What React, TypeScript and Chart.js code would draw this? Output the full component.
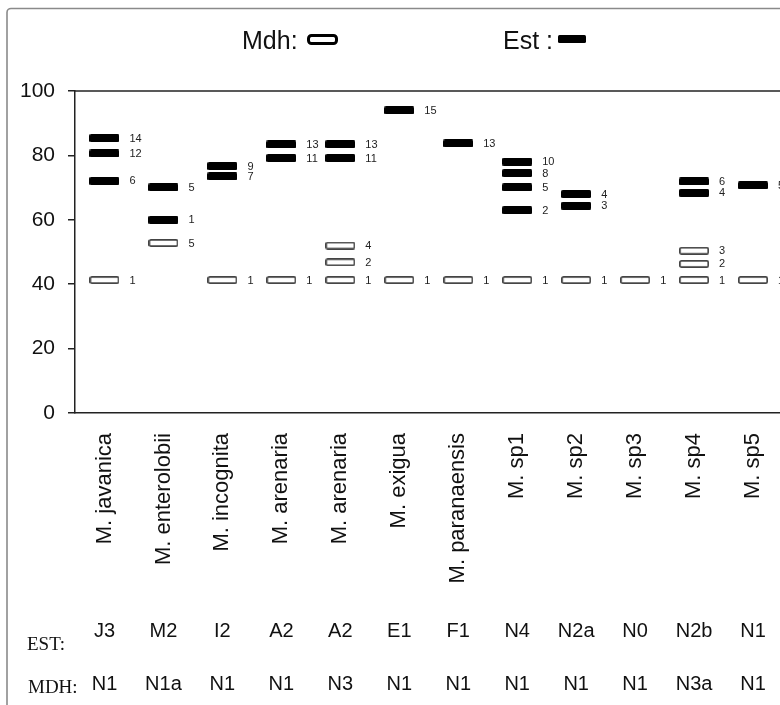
import React, { useEffect, useRef } from 'react';
import { Chart, registerables } from 'chart.js';

Chart.register(...registerables);

const categories = [
  'M. javanica', 'M. enterolobii', 'M. incognita', 'M. arenaria', 'M. arenaria', 'M. exigua',
  'M. paranaensis', 'M. sp1', 'M. sp2', 'M. sp3', 'M. sp4', 'M. sp5',
];
const estTypes = ['J3', 'M2', 'I2', 'A2', 'A2', 'E1', 'F1', 'N4', 'N2a', 'N0', 'N2b', 'N1'];
const mdhTypes = ['N1', 'N1a', 'N1', 'N1', 'N3', 'N1', 'N1', 'N1', 'N1', 'N1', 'N3a', 'N1'];

const estBands: number[][] = [
  [85.4, 80.6, 72.1],
  [70.1, 60.0],
  [76.7, 73.5],
  [83.4, 79.2],
  [83.5, 79.2],
  [94.0],
  [83.7],
  [78.1, 74.5, 70.1, 63.0],
  [68.0, 64.4],
  [],
  [71.9, 68.4],
  [70.7],
];
const estBandLabels: string[][] = [
  ['14', '12', '6'], ['5', '1'], ['9', '7'], ['13', '11'], ['13', '11'], ['15'], ['13'],
  ['10', '8', '5', '2'], ['4', '3'], [], ['6', '4'], ['5'],
];
const mdhBands: number[][] = [
  [41.3], [52.8], [41.3], [41.3], [52.0, 46.8, 41.3], [41.3], [41.3], [41.3], [41.3], [41.3],
  [50.4, 46.3, 41.3], [41.3],
];
const mdhBandLabels: string[][] = [
  ['1'], ['5'], ['1'], ['1'], ['4', '2', '1'], ['1'], ['1'], ['1'], ['1'], ['1'], ['3', '2', '1'], ['1'],
];
const yMin = 0;
const yMax = 100;
const yStep = 20;

const SANS = '"Liberation Sans", Arial, sans-serif';
const SERIF = '"Liberation Serif", "Times New Roman", serif';

function makeBand(filled: boolean): HTMLCanvasElement {
  const c = document.createElement('canvas');
  c.width = 30;
  c.height = 8;
  const g = c.getContext('2d')!;
  g.beginPath();
  if (filled) {
    g.roundRect(0, 0, 30, 8, 1.5);
    g.fillStyle = '#000';
    g.fill();
  } else {
    g.roundRect(0.85, 0.85, 28.3, 6.3, 1.5);
    g.fillStyle = '#fff';
    g.fill();
    g.lineWidth = 1.7;
    g.strokeStyle = '#444';
    g.stroke();
  }
  return c;
}

function toPoints(bands: number[][]) {
  const pts: { x: number; y: number }[] = [];
  bands.forEach((arr, i) => arr.forEach((v) => pts.push({ x: i, y: v })));
  return pts;
}

const bandLabelPlugin = {
  id: 'bandLabels',
  afterDatasetsDraw(chart: any) {
    const ctx = chart.ctx;
    ctx.save();
    ctx.font = `11px ${SANS}`;
    ctx.fillStyle = '#222';
    ctx.textAlign = 'left';
    ctx.textBaseline = 'middle';
    chart.data.datasets.forEach((ds: any, di: number) => {
      const meta = chart.getDatasetMeta(di);
      meta.data.forEach((el: any, j: number) => {
        ctx.fillText(ds.bandLabels[j], el.x + 25, el.y + 0.5);
      });
    });
    ctx.restore();
  },
};

const decorPlugin = {
  id: 'decor',
  beforeDraw(chart: any) {
    const ctx = chart.ctx;
    ctx.save();
    ctx.fillStyle = '#fff';
    ctx.fillRect(0, 0, chart.width, chart.height);
    ctx.beginPath();
    ctx.roundRect(7, 8.5, 900, 900, 4);
    ctx.strokeStyle = '#8a8a8a';
    ctx.lineWidth = 1.6;
    ctx.stroke();
    ctx.restore();
  },
  afterDraw(chart: any) {
    const ctx = chart.ctx;
    const area = chart.chartArea;
    const xs = chart.scales.x;
    ctx.save();
    // top border of plot
    ctx.beginPath();
    ctx.moveTo(area.left, area.top);
    ctx.lineTo(area.right, area.top);
    ctx.strokeStyle = '#222';
    ctx.lineWidth = 1.5;
    ctx.stroke();

    // legend
    ctx.fillStyle = '#111';
    ctx.font = `25px ${SANS}`;
    ctx.textAlign = 'left';
    ctx.textBaseline = 'alphabetic';
    ctx.fillText('Mdh:', 242, 49);
    ctx.fillText('Est :', 503, 49);
    ctx.beginPath();
    ctx.roundRect(308.5, 35.5, 28, 8, 3);
    ctx.fillStyle = '#fff';
    ctx.fill();
    ctx.lineWidth = 3;
    ctx.strokeStyle = '#000';
    ctx.stroke();
    ctx.beginPath();
    ctx.roundRect(558, 35, 28, 8, 1.5);
    ctx.fillStyle = '#000';
    ctx.fill();

    // EST / MDH rows
    ctx.fillStyle = '#111';
    ctx.font = `19px ${SERIF}`;
    ctx.fillText('EST:', 27, 650);
    ctx.fillText('MDH:', 28, 693);
    ctx.font = `20px ${SANS}`;
    ctx.textAlign = 'center';
    categories.forEach((_, i) => {
      const px = xs.getPixelForValue(i);
      ctx.fillText(estTypes[i], px, 637);
      ctx.fillText(mdhTypes[i], px, 690);
    });
    ctx.restore();
  },
};

export default function App() {
  const ref = useRef<HTMLCanvasElement | null>(null);
  useEffect(() => {
    if (!ref.current) return;
    const filled = makeBand(true);
    const hollow = makeBand(false);
    const chart = new Chart(ref.current, {
      type: 'line',
      data: {
        labels: categories,
        datasets: [
          {
            label: 'Mdh',
            data: toPoints(mdhBands),
            parsing: false,
            showLine: false,
            pointStyle: hollow as any,
            pointRadius: 10,
            pointHoverRadius: 10,
            bandLabels: mdhBandLabels.flat(),
          } as any,
          {
            label: 'Est',
            data: toPoints(estBands),
            parsing: false,
            showLine: false,
            pointStyle: filled as any,
            pointRadius: 10,
            pointHoverRadius: 10,
            bandLabels: estBandLabels.flat(),
          } as any,
        ],
      },
      options: {
        responsive: false,
        animation: false,
        events: [],
        layout: { padding: { left: 0, right: 13, top: 91, bottom: 0 } },
        plugins: { legend: { display: false }, tooltip: { enabled: false } },
        scales: {
          x: {
            type: 'category',
            offset: true,
            grid: { display: false, drawTicks: false },
            border: { display: true, color: '#222', width: 1.5 },
            ticks: {
              autoSkip: false,
              minRotation: 90,
              maxRotation: 90,
              padding: 20,
              color: '#111',
              font: { family: SANS, size: 22 },
            },
            afterFit: (s: any) => {
              s.height = 292;
            },
          },
          y: {
            min: yMin,
            max: yMax,
            grid: { display: true, drawOnChartArea: false, tickLength: 7, color: '#222', lineWidth: 1.5 },
            border: { display: true, color: '#222', width: 1.5 },
            ticks: {
              stepSize: yStep,
              padding: 13,
              color: '#111',
              font: { family: SANS, size: 21 },
            },
            afterFit: (s: any) => {
              s.width = 75;
            },
          },
        },
      },
      plugins: [decorPlugin, bandLabelPlugin],
    });
    return () => chart.destroy();
  }, []);

  return (
    <div style={{ position: 'fixed', left: 0, top: 0, width: 780, height: 705, overflow: 'hidden', background: '#fff' }}>
      <canvas ref={ref} width={800} height={705} style={{ width: 800, height: 705, display: 'block' }} />
    </div>
  );
}
